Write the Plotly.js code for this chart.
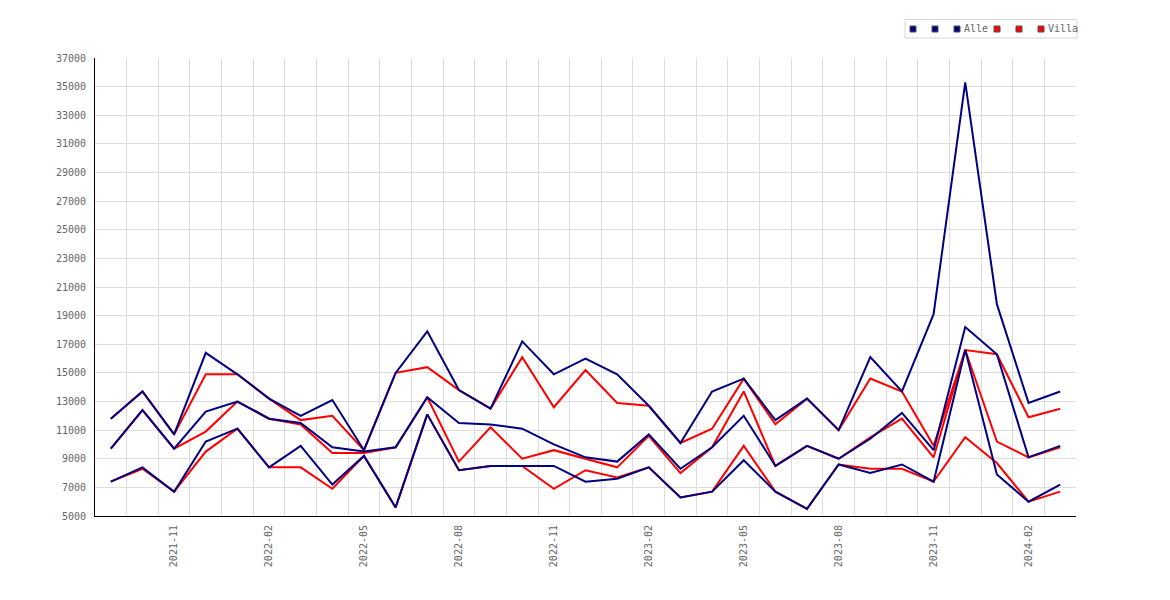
<!DOCTYPE html>
<html>
<head>
<meta charset="utf-8">
<script src="https://cdn.plot.ly/plotly-3.0.1.min.js"></script>
<style>
  body { margin: 0; background: #fff; }
  #chart { width: 1170px; height: 600px; }
</style>
</head>
<body>
<div id="chart"></div>
<script>
var months = ['2021-09','2021-10','2021-11','2021-12','2022-01','2022-02','2022-03','2022-04',
  '2022-05','2022-06','2022-07','2022-08','2022-09','2022-10','2022-11','2022-12','2023-01',
  '2023-02','2023-03','2023-04','2023-05','2023-06','2023-07','2023-08','2023-09','2023-10',
  '2023-11','2023-12','2024-01','2024-02','2024-03'];

var tickLabels = ['2021-11','2022-02','2022-05','2022-08','2022-11','2023-02','2023-05','2023-08','2023-11','2024-02'];

var alle1 = [11800,13700,10700,16400,14900,13200,12000,13100,9600,15000,17900,13800,12500,17200,14900,
  16000,14900,12700,10100,13700,14600,11700,13200,11000,16100,13700,19100,35300,19800,12900,13700];
var alle2 = [9700,12400,9700,12300,13000,11800,11500,9800,9500,9800,13300,11500,11400,11100,10000,
  9100,8800,10700,8300,9800,12000,8500,9900,9000,10400,12200,9600,18200,16300,9100,9900];
var alle3 = [7400,8400,6700,10200,11100,8400,9900,7200,9200,5600,12100,8200,8500,8500,8500,
  7400,7600,8400,6300,6700,8900,6700,5500,8600,8000,8600,7400,16600,7900,6000,7200];

var villa1 = [11800,13700,10700,14900,14900,13200,11700,12000,9600,15000,15400,13800,12500,16100,12600,
  15200,12900,12700,10100,11100,14600,11400,13200,11000,14600,13700,9900,16600,16300,11900,12500];
var villa2 = [9700,12400,9700,10900,13000,11800,11400,9400,9400,9800,13300,8800,11200,9000,9600,
  9000,8400,10600,8000,9800,13700,8500,9900,9000,10500,11800,9100,16600,10200,9100,9800];
var villa3 = [7400,8300,6700,9500,11100,8400,8400,6900,9200,5600,12100,8200,8500,8500,6900,
  8200,7700,8400,6300,6700,9900,6700,5500,8600,8300,8300,7400,10500,8700,6000,6700];

var navy = '#000080';
var red = '#ff0000';

// legend order as in the original: 3 x Alle then 3 x Villa, only the last of each is named
var legendNames = ['', '', 'Alle', '', '', 'Villa'];
var legendColors = [navy, navy, navy, red, red, red];

var xs = months.map(function(m, i){ return i; });
var tickPos = tickLabels.map(function(t){ return months.indexOf(t); });

function serie(y, color){
  return {
    x: xs, y: y, type: 'scatter', mode: 'lines',
    line: {color: color, width: 2},
    showlegend: false, hoverinfo: 'skip'
  };
}

// red drawn first so navy ends up on top where they overlap
var data = [
  serie(villa1, red), serie(villa2, red), serie(villa3, red),
  serie(alle1, navy), serie(alle2, navy), serie(alle3, navy)
];

var fnt = {family: 'DejaVu Sans Mono, monospace', size: 10, color: '#666'};

// small legend box top right, built by hand (plotly legend is too wide)
var L = 95, R = 1076, T = 58, B = 516;
function px(x){ return (x - L) / (R - L); }
function py(y){ return (B - y) / (B - T); }

var shapes = [{
  type: 'rect', xref: 'paper', yref: 'paper',
  x0: px(905), x1: px(1077), y0: py(38), y1: py(19.5),
  line: {color: '#d6d6d6', width: 1}, fillcolor: 'rgba(0,0,0,0)'
}];
var annotations = [];
var cx = 910;
legendNames.forEach(function(name, i){
  shapes.push({
    type: 'rect', xref: 'paper', yref: 'paper',
    x0: px(cx), x1: px(cx + 6), y0: py(32), y1: py(26),
    fillcolor: legendColors[i], line: {color: '#555', width: 1}
  });
  cx += 6;
  if (name) {
    annotations.push({
      xref: 'paper', yref: 'paper', x: px(cx + 3), y: py(29),
      xanchor: 'left', yanchor: 'middle', text: name, showarrow: false,
      font: fnt, borderpad: 0
    });
    cx += 4 + name.length * 6 + 6;
  } else {
    cx += 16;
  }
});

var layout = {
  width: 1170, height: 600,
  margin: {l: L, r: 1170 - R, t: T, b: 600 - B},
  paper_bgcolor: '#fff', plot_bgcolor: '#fff',
  font: fnt,
  showlegend: false,
  shapes: shapes,
  annotations: annotations,
  xaxis: {
    range: [-0.5, 30.5],
    tickmode: 'array', tickvals: tickPos, ticktext: tickLabels,
    tickangle: -90, ticks: '', showgrid: false, zeroline: false,
    showline: true, linecolor: '#000', linewidth: 1,
    minor: {tick0: 0.5, dtick: 1, showgrid: true, gridcolor: '#ddd', gridwidth: 1, ticks: ''},
    ticklabelstandoff: 4, tickfont: fnt
  },
  yaxis: {
    range: [5000, 37000], dtick: 2000, tick0: 5000, tickformat: 'd',
    ticks: '', showgrid: true, gridcolor: '#ddd', zeroline: false,
    showline: true, linecolor: '#000', linewidth: 1,
    ticklabelstandoff: 6, tickfont: fnt
  }
};

Plotly.newPlot('chart', data, layout, {displayModeBar: false, staticPlot: true});
</script>
</body>
</html>
